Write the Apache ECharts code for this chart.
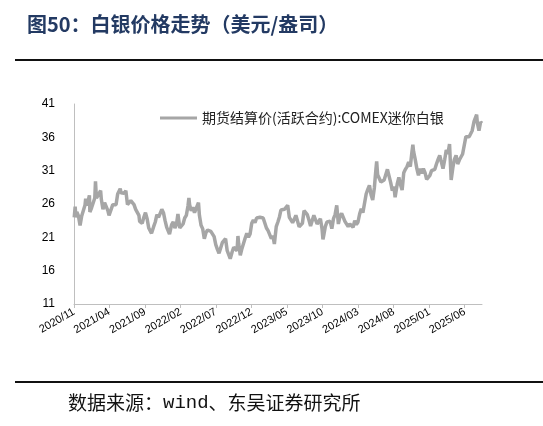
<!DOCTYPE html>
<html>
<head>
<meta charset="utf-8">
<script src="https://cdn.jsdelivr.net/npm/echarts@6/dist/echarts.min.js"></script>
<style>
html,body{margin:0;padding:0;background:#fff;}
#chart{width:543px;height:426px;}
</style>
</head>
<body>
<div id="chart"></div>
<script>
// ---- Data (weekly-ish readings of COMEX mini silver settlement, USD/oz) ----
const dates2020 = ['2020-11-02','2020-11-06','2020-11-09','2020-11-13','2020-11-20','2020-11-27','2020-11-30','2020-12-04','2020-12-11','2020-12-18','2020-12-21','2020-12-24','2020-12-31'];
const values2020 = [24.0,25.6,24.0,24.8,24.2,22.8,22.6,24.2,23.9,25.8,26.8,25.8,26.4];

const dates2021 = ['2021-01-06','2021-01-08','2021-01-15','2021-01-22','2021-01-29','2021-02-01','2021-02-05','2021-02-12','2021-02-19','2021-02-23','2021-02-26','2021-03-05','2021-03-12','2021-03-19','2021-03-26','2021-03-31','2021-04-09','2021-04-16','2021-04-23','2021-04-30','2021-05-07','2021-05-14','2021-05-18','2021-05-21','2021-05-28','2021-06-04','2021-06-11','2021-06-18','2021-06-25','2021-07-02','2021-07-09','2021-07-16','2021-07-23','2021-07-30','2021-08-06','2021-08-09','2021-08-13','2021-08-20','2021-08-27','2021-09-03','2021-09-10','2021-09-17','2021-09-24','2021-09-29','2021-10-08','2021-10-15','2021-10-22','2021-10-29','2021-11-05','2021-11-12','2021-11-16','2021-11-19','2021-11-26','2021-12-03','2021-12-10','2021-12-15','2021-12-24','2021-12-31'];
const values2021 = [27.3,24.8,25.4,25.6,26.9,29.4,26.9,27.3,27.3,28.0,26.7,25.2,26.2,26.3,25.0,24.3,25.2,25.9,26.0,25.9,27.5,27.4,28.3,27.7,27.9,27.6,28.0,25.9,26.2,26.5,26.2,25.9,25.2,25.5,24.3,23.4,23.7,23.1,24.0,24.7,23.8,22.4,22.5,21.6,22.6,23.3,24.4,24.0,24.1,25.2,25.4,24.7,23.5,22.5,22.2,21.5,22.9,23.3];

const dates2022 = ['2022-01-07','2022-01-14','2022-01-20','2022-01-28','2022-02-04','2022-02-11','2022-02-18','2022-02-25','2022-03-04','2022-03-08','2022-03-11','2022-03-18','2022-03-25','2022-04-01','2022-04-08','2022-04-18','2022-04-22','2022-04-29','2022-05-06','2022-05-13','2022-05-20','2022-05-27','2022-06-03','2022-06-10','2022-06-17','2022-06-24','2022-07-01','2022-07-08','2022-07-15','2022-07-22','2022-07-29','2022-08-05','2022-08-12','2022-08-19','2022-08-26','2022-09-01','2022-09-09','2022-09-16','2022-09-23','2022-09-30','2022-10-04','2022-10-07','2022-10-14','2022-10-21','2022-10-28','2022-11-04','2022-11-11','2022-11-18','2022-11-25','2022-12-02','2022-12-09','2022-12-16','2022-12-23','2022-12-30'];
const values2022 = [22.4,23.0,24.5,22.4,22.4,23.0,23.9,24.3,25.7,26.9,25.9,25.0,25.5,24.7,24.8,26.2,24.3,22.8,22.3,20.8,21.7,22.1,22.1,21.9,21.6,21.1,19.9,19.2,18.6,18.6,20.2,19.9,20.8,19.0,18.9,17.8,18.8,19.5,19.2,19.0,21.2,20.1,18.3,19.3,19.2,20.9,21.6,21.0,21.5,23.1,23.6,23.2,23.9,24.0];

const dates2023 = ['2023-01-06','2023-01-13','2023-01-20','2023-01-27','2023-02-03','2023-02-10','2023-02-17','2023-02-24','2023-03-03','2023-03-09','2023-03-17','2023-03-24','2023-03-31','2023-04-06','2023-04-14','2023-04-21','2023-04-28','2023-05-05','2023-05-12','2023-05-19','2023-05-26','2023-06-02','2023-06-09','2023-06-16','2023-06-23','2023-06-30','2023-07-07','2023-07-14','2023-07-21','2023-07-28','2023-08-04','2023-08-11','2023-08-18','2023-08-25','2023-09-01','2023-09-08','2023-09-15','2023-09-22','2023-09-29','2023-10-03','2023-10-06','2023-10-13','2023-10-20','2023-10-27','2023-11-03','2023-11-10','2023-11-17','2023-11-24','2023-12-01','2023-12-08','2023-12-15','2023-12-22','2023-12-29'];
const values2023 = [24.0,24.3,23.9,23.6,22.4,22.0,21.7,20.8,21.2,20.0,22.6,23.3,24.1,25.1,25.4,25.2,25.0,25.8,24.0,23.9,23.2,23.7,24.3,24.2,22.6,22.8,23.1,25.0,24.9,24.4,23.6,22.7,22.8,24.3,24.2,23.0,23.0,23.8,22.3,20.7,21.2,22.6,23.3,23.3,23.4,22.3,23.8,24.4,25.8,23.0,24.2,24.6,24.0];

const dates2024 = ['2024-01-05','2024-01-12','2024-01-19','2024-01-26','2024-02-02','2024-02-09','2024-02-16','2024-02-23','2024-03-01','2024-03-08','2024-03-15','2024-03-22','2024-03-28','2024-04-05','2024-04-12','2024-04-19','2024-04-26','2024-05-03','2024-05-10','2024-05-17','2024-05-20','2024-05-24','2024-05-31','2024-06-07','2024-06-14','2024-06-21','2024-06-28','2024-07-05','2024-07-10','2024-07-19','2024-07-26','2024-08-02','2024-08-07','2024-08-16','2024-08-23','2024-08-30','2024-09-06','2024-09-13','2024-09-20','2024-09-27','2024-10-04','2024-10-11','2024-10-18','2024-10-22','2024-10-25','2024-11-01','2024-11-08','2024-11-15','2024-11-22','2024-11-29','2024-12-06','2024-12-13','2024-12-20','2024-12-27'];
const values2024 = [23.4,23.2,22.6,23.0,22.9,22.5,23.5,22.9,23.3,24.5,25.3,24.7,25.0,27.5,28.2,28.8,27.4,26.6,28.4,31.3,32.4,30.4,30.4,29.3,29.6,29.6,29.4,31.2,31.5,29.2,28.0,28.6,27.0,29.0,30.0,28.9,28.1,30.7,31.2,31.6,32.3,31.6,33.8,34.9,33.9,32.7,31.3,30.3,31.3,30.6,31.3,30.7,29.7,29.9];

const dates2025 = ['2025-01-03','2025-01-10','2025-01-17','2025-01-24','2025-01-31','2025-02-07','2025-02-14','2025-02-21','2025-02-28','2025-03-07','2025-03-14','2025-03-21','2025-03-28','2025-04-04','2025-04-07','2025-04-11','2025-04-17','2025-04-25','2025-05-02','2025-05-09','2025-05-16','2025-05-23','2025-05-30','2025-06-06','2025-06-13','2025-06-20','2025-06-27','2025-07-03','2025-07-11','2025-07-18','2025-07-22','2025-07-25','2025-08-01','2025-08-08','2025-08-14'];
const values2025 = [30.3,31.0,31.1,31.2,32.0,32.7,33.3,33.2,31.3,32.6,34.1,33.5,35.0,29.6,29.3,31.4,32.6,33.3,32.0,32.6,32.3,33.5,33.2,36.1,36.3,36.1,36.1,37.0,38.4,38.2,39.4,38.2,37.0,38.3,38.1];

const xTickLabels = ['2020/11','2021/04','2021/09','2022/02','2022/07','2022/12','2023/05','2023/10','2024/03','2024/08','2025/01','2025/06'];
const yMin = 11, yMax = 41, yStep = 5;
const seriesName = '期货结算价(活跃合约):COMEX迷你白银';
const titleText = '图50：白银价格走势（美元/盎司）';
const sourceParts = ['数据来源：', 'wind', '、东吴证券研究所'];
const xStart = '2020-11-01', xEnd = '2025-08-14';

// ---- Build ----
function toTime(s) { const p = s.split(/[-\/]/); return Date.UTC(+p[0], +p[1] - 1, p[2] ? +p[2] : 1); }
function fmtMonth(v) { const d = new Date(v); return d.getUTCFullYear() + '/' + String(d.getUTCMonth() + 1).padStart(2, '0'); }
const allDates = [].concat(dates2020, dates2021, dates2022, dates2023, dates2024, dates2025);
const allValues = [].concat(values2020, values2021, values2022, values2023, values2024, values2025);
const seriesData = allDates.map((d, i) => [toTime(d), allValues[i]]);
const tickTimes = xTickLabels.map(toTime);

const chart = echarts.init(document.getElementById('chart'), null, {renderer: 'canvas'});
chart.setOption({
  animation: false,
  backgroundColor: '#ffffff',
  grid: {left: 74, right: 61, top: 104, bottom: 122, containLabel: false, outerBoundsMode: 'none'},
  legend: {
    show: true, left: 160, top: 111, padding: 0, icon: 'rect', itemWidth: 37, itemHeight: 3, itemGap: 6,
    textStyle: {fontSize: 14, color: '#222', fontFamily: 'Noto Sans CJK SC'},
    data: [seriesName]
  },
  xAxis: {
    type: 'value', min: toTime(xStart), max: toTime(xEnd),
    axisLine: {show: true, lineStyle: {color: '#bfbfbf', width: 1}},
    axisTick: {show: true, customValues: tickTimes, length: 4, lineStyle: {color: '#bfbfbf'}},
    axisLabel: {
      customValues: tickTimes, rotate: 30, margin: 7, fontSize: 11, color: '#000', fontFamily: 'Liberation Sans',
      formatter: fmtMonth
    },
    splitLine: {show: false}
  },
  yAxis: {
    type: 'value', min: yMin, max: yMax, interval: yStep,
    axisLine: {show: true, lineStyle: {color: '#bfbfbf', width: 1}},
    axisTick: {show: false},
    splitLine: {show: false},
    axisLabel: {fontSize: 12, color: '#000', margin: 19, fontFamily: 'Liberation Sans'}
  },
  series: [{
    name: seriesName, type: 'line', data: seriesData, showSymbol: false, symbol: 'none',
    lineStyle: {color: '#a6a6a6', width: 3.5}, itemStyle: {color: '#a6a6a6'}
  }],
  graphic: [
    {type: 'text', left: 27, top: 14, style: {text: titleText, fontSize: 20, fontWeight: 'bold', fill: '#233a63', fontFamily: 'Noto Sans CJK SC'}},
    {type: 'line', shape: {x1: 15, y1: 60, x2: 543, y2: 60}, style: {stroke: '#111', lineWidth: 2}},
    {type: 'line', shape: {x1: 15, y1: 382, x2: 543, y2: 382}, style: {stroke: '#111', lineWidth: 2}},
    {type: 'text', left: 68, top: 393, style: {
      text: '{a|' + sourceParts[0] + '}{b|' + sourceParts[1] + '}{a|' + sourceParts[2] + '}',
      rich: {
        a: {fontSize: 19, fill: '#111', fontFamily: 'Noto Sans CJK SC'},
        b: {fontSize: 19, fill: '#111', fontFamily: 'Liberation Mono'}
      }
    }}
  ]
});
</script>
</body>
</html>
